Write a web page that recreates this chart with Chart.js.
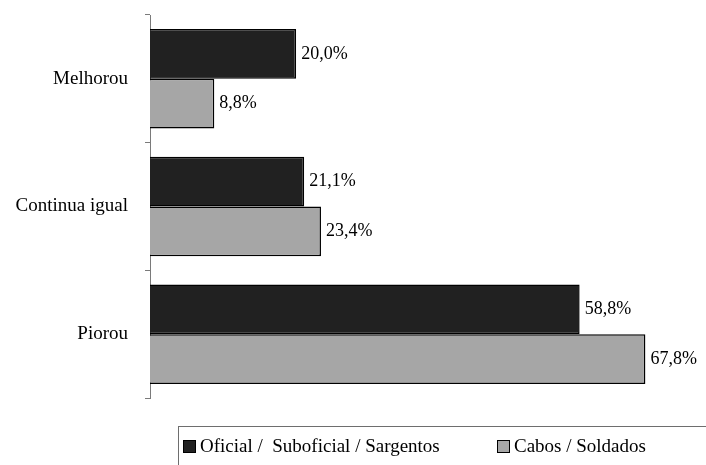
<!DOCTYPE html>
<html>
<head>
<meta charset="utf-8">
<script src="https://cdn.jsdelivr.net/npm/chart.js@4/dist/chart.umd.min.js"></script>
<style>
  html, body { margin: 0; padding: 0; background: #fff; }
  #wrap { position: relative; width: 706px; height: 465px; overflow: hidden; }
  #legend {
    position: absolute; left: 178px; top: 426px; width: 560px; height: 60px;
    border-left: 1px solid #6e6e6e; border-top: 1px solid #6e6e6e;
    font-family: "Liberation Serif", serif; font-size: 19px; color: #000;
  }
  #legend .item { position: absolute; top: 8px; white-space: pre; }
  #legend .box {
    display: inline-block; width: 11px; height: 11px; border: 1px solid #000;
    margin-right: 4px; vertical-align: -1px;
  }
</style>
</head>
<body>
<div id="wrap">
  <canvas id="myChart" width="706" height="465"></canvas>
  <div id="legend"></div>
</div>
<script>
const categories = ["Melhorou", "Continua igual", "Piorou"];
const seriesNames = ["Oficial /  Suboficial / Sargentos", "Cabos / Soldados"];
const oficiais = [20.0, 21.1, 58.8];
const cabos = [8.8, 23.4, 67.8];
const colors = ["#212121", "#a6a6a6"];
const legendX = [4, 318];

const serif = "'Liberation Serif', serif";
const fmt = (v) => v.toFixed(1).replace(".", ",") + "%";

const valueLabels = {
  id: "valueLabels",
  afterDatasetsDraw(chart) {
    const ctx = chart.ctx;
    ctx.save();
    ctx.font = "18px " + serif;
    ctx.fillStyle = "#000";
    ctx.textBaseline = "middle";
    chart.data.datasets.forEach((ds, i) => {
      chart.getDatasetMeta(i).data.forEach((bar, j) => {
        ctx.fillText(fmt(ds.data[j]), bar.x + 5, bar.y);
      });
    });
    ctx.restore();
  },
};

const ctx = document.getElementById("myChart");
const chart = new Chart(ctx, {
  type: "bar",
  data: {
    labels: categories,
    datasets: [
      {
        label: seriesNames[0],
        data: oficiais,
        backgroundColor: colors[0],
        borderColor: "#000",
        borderWidth: 1.5,
        barPercentage: 1,
        categoryPercentage: 0.78,
      },
      {
        label: seriesNames[1],
        data: cabos,
        backgroundColor: colors[1],
        borderColor: "#000",
        borderWidth: 1.5,
        barPercentage: 1,
        categoryPercentage: 0.78,
      },
    ],
  },
  options: {
    indexAxis: "y",
    responsive: false,
    animation: false,
    layout: { padding: { top: 15, bottom: 67, right: 8, left: 0 } },
    plugins: {
      legend: { display: false },
      tooltip: { enabled: false },
    },
    scales: {
      x: { display: false, min: 0, max: 75 },
      y: {
        afterFit(scale) {
          scale.width = 150;
          scale.paddingTop = 0;
          scale.paddingBottom = 0;
        },
        border: { display: true, color: "#7a7a7a", width: 1 },
        grid: {
          offset: true,
          drawOnChartArea: false,
          drawTicks: true,
          tickLength: 5,
          color: "#7a7a7a",
        },
        ticks: {
          padding: 17,
          color: "#000",
          font: { family: serif, size: 19 },
        },
      },
    },
  },
  plugins: [valueLabels],
});

const legend = document.getElementById("legend");
seriesNames.forEach((name, i) => {
  const item = document.createElement("span");
  item.className = "item";
  item.style.left = legendX[i] + "px";
  const box = document.createElement("span");
  box.className = "box";
  box.style.background = colors[i];
  item.appendChild(box);
  item.appendChild(document.createTextNode(name));
  legend.appendChild(item);
});
</script>
</body>
</html>
